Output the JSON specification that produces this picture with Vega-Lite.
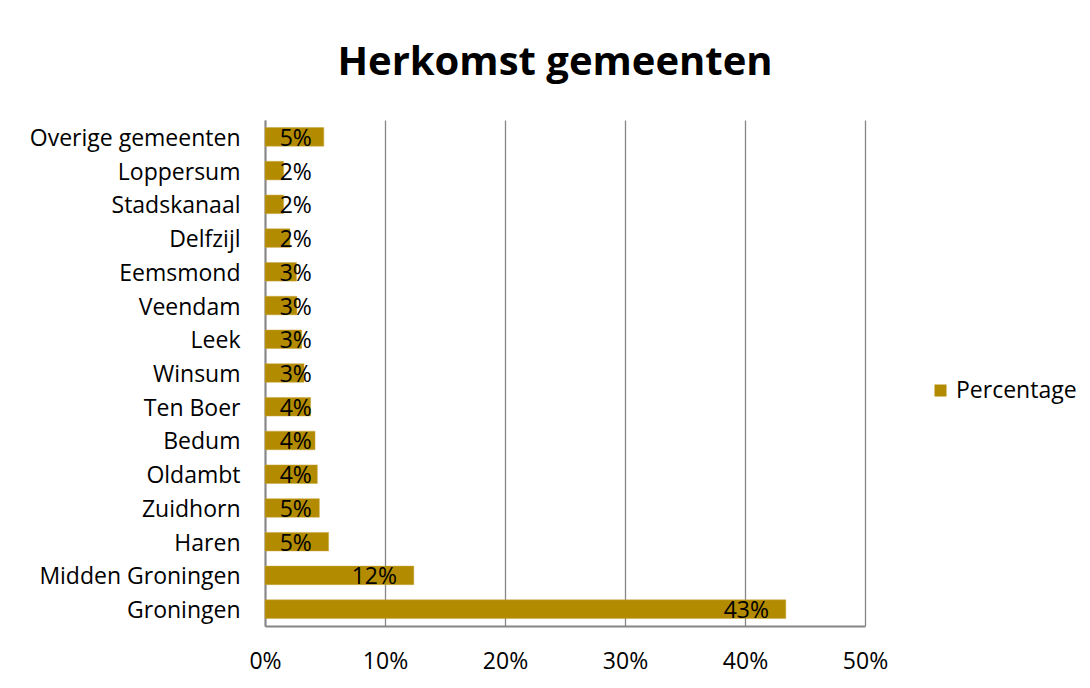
{
  "$schema": "https://vega.github.io/schema/vega-lite/v6.json",
  "autosize": {"type": "none"},
  "width": 600,
  "height": 506,
  "padding": {"left": 265, "top": 120, "right": 225, "bottom": 62},
  "background": "white",
  "title": {
    "text": "Herkomst gemeenten",
    "font": "Open Sans",
    "fontSize": 40,
    "fontWeight": "bold",
    "color": "black",
    "anchor": "middle",
    "dx": -10,
    "offset": 37
  },
  "data": {
    "values": [
      {"gemeente": "Overige gemeenten", "value": 0.049, "series": "Percentage"},
      {"gemeente": "Loppersum", "value": 0.0155, "series": "Percentage"},
      {"gemeente": "Stadskanaal", "value": 0.0155, "series": "Percentage"},
      {"gemeente": "Delfzijl", "value": 0.0208, "series": "Percentage"},
      {"gemeente": "Eemsmond", "value": 0.0262, "series": "Percentage"},
      {"gemeente": "Veendam", "value": 0.0266, "series": "Percentage"},
      {"gemeente": "Leek", "value": 0.0306, "series": "Percentage"},
      {"gemeente": "Winsum", "value": 0.0325, "series": "Percentage"},
      {"gemeente": "Ten Boer", "value": 0.038, "series": "Percentage"},
      {"gemeente": "Bedum", "value": 0.0417, "series": "Percentage"},
      {"gemeente": "Oldambt", "value": 0.0436, "series": "Percentage"},
      {"gemeente": "Zuidhorn", "value": 0.0453, "series": "Percentage"},
      {"gemeente": "Haren", "value": 0.053, "series": "Percentage"},
      {"gemeente": "Midden Groningen", "value": 0.124, "series": "Percentage"},
      {"gemeente": "Groningen", "value": 0.434, "series": "Percentage"}
    ]
  },
  "encoding": {
    "y": {
      "field": "gemeente",
      "type": "nominal",
      "sort": null,
      "title": null,
      "scale": {"paddingInner": 0.45, "paddingOuter": 0.225},
      "axis": {
        "labelFont": "Open Sans",
        "labelFontSize": 23,
        "labelColor": "black",
        "labelPadding": 25,
        "labelOffset": 2,
        "labelLimit": 0,
        "ticks": false,
        "domainColor": "#868686",
        "domainWidth": 2,
        "grid": false
      }
    }
  },
  "layer": [
    {
      "mark": {"type": "bar", "stroke": "#C9A640", "strokeWidth": 0.5},
      "encoding": {
        "x": {
          "field": "value",
          "type": "quantitative",
          "title": null,
          "scale": {"domain": [0, 0.5]},
          "axis": {
            "format": ".0%",
            "values": [0, 0.1, 0.2, 0.3, 0.4, 0.5],
            "labelFont": "Open Sans",
            "labelFontSize": 23,
            "labelColor": "black",
            "labelPadding": 24,
            "labelFlush": false,
            "ticks": false,
            "domainColor": "#868686",
            "domainWidth": 2,
            "grid": true,
            "gridColor": "#868686",
            "gridWidth": 1.3
          }
        },
        "color": {
          "field": "series",
          "type": "nominal",
          "title": null,
          "scale": {"range": ["#B38B00"]},
          "legend": {
            "orient": "none",
            "legendX": 664,
            "legendY": 259,
            "symbolType": "square",
            "symbolSize": 144,
            "symbolStrokeWidth": 0,
            "labelFont": "Open Sans",
            "labelFontSize": 23,
            "labelColor": "black",
            "labelOffset": 4
          }
        }
      }
    },
    {
      "transform": [
        {"calculate": "max(datum.value - 0.014, 0.039)", "as": "lx"}
      ],
      "mark": {
        "type": "text",
        "align": "right",
        "baseline": "middle",
        "font": "Open Sans",
        "fontSize": 23,
        "color": "black",
        "dy": 2
      },
      "encoding": {
        "x": {"field": "lx", "type": "quantitative"},
        "text": {"field": "value", "type": "quantitative", "format": ".0%"}
      }
    }
  ],
  "config": {
    "view": {"stroke": null}
  }
}
